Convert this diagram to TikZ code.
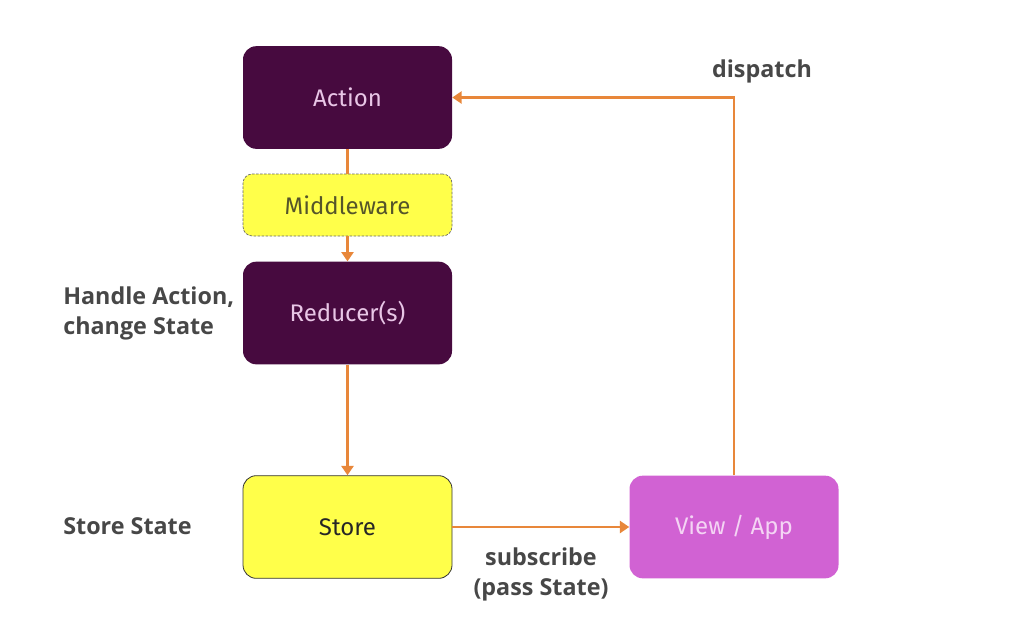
\documentclass[tikz,border=0pt]{standalone}
\usepackage{fontspec}
\setmainfont{Fira Sans}
\newfontfamily\labfont{Open Sans}
\usetikzlibrary{arrows.meta}
\definecolor{purp}{HTML}{470A3F}
\definecolor{purptext}{HTML}{E8C6E6}
\definecolor{yel}{HTML}{FFFF4A}
\definecolor{yeltext}{HTML}{55552A}
\definecolor{viewc}{HTML}{D162D3}
\definecolor{viewtext}{HTML}{F4D4F4}
\definecolor{arr}{HTML}{E8873A}
\definecolor{lbl}{HTML}{474747}
\tikzset{
  px/.style={x=0.75pt,y=-0.75pt},
  box/.style={rounded corners=10pt, minimum width=156.75pt, minimum height=77pt, inner sep=0pt, font=\fontsize{18}{21}\selectfont},
  purpbox/.style={box, fill=purp, text=purptext},
  midbox/.style={box, minimum height=46.5pt, fill=yel, draw=gray!80!black, dashed, dash pattern=on 2pt off 1pt, line width=0.5pt, text=yeltext, rounded corners=7pt},
  storebox/.style={box, fill=yel, draw=black!80, line width=0.6pt, text=black!85},
  viewbox/.style={box, fill=viewc, text=viewtext},
  conn/.style={draw=arr, line width=2.2pt},
  arrow/.style={conn, -{Triangle[length=7pt,width=9pt]}},
  lab/.style={font=\labfont\fontsize{17.5}{22.5}\selectfont\bfseries, text=lbl, inner sep=0pt}
}
\begin{document}
\begin{tikzpicture}[px]
\useasboundingbox (0,0) rectangle (1019,632);
\node[purpbox] (action) at (347.5,97.5) {Action};
\node[midbox] (mid) at (347.5,205) {Middleware};
\node[purpbox] (red) at (347.5,313) {Reducer(s)};
\node[storebox] (store) at (347.5,527) {Store};
\node[viewbox] (view) at (734,527) {View / App};
\coordinate (corner) at (734,97.5);
\draw[conn] (action.south) -- (mid.north);
\draw[arrow] (mid.south) -- (red.north);
\draw[arrow] (red.south) -- (store.north);
\draw[arrow] (store.east) -- (view.west);
\draw[arrow] (view.north) -- (corner) -- (action.east);
\node[lab, anchor=center] (disp) at (762,71) {dispatch};
\node[lab, anchor=west, align=left] (handle) at (63,313.5) {Handle Action,\\change State};
\node[lab, anchor=west] (ss) at (63,526) {Store State};
\node[lab, align=center] (sub) at (541,574) {subscribe\\(pass State)};
\end{tikzpicture}
\end{document}
